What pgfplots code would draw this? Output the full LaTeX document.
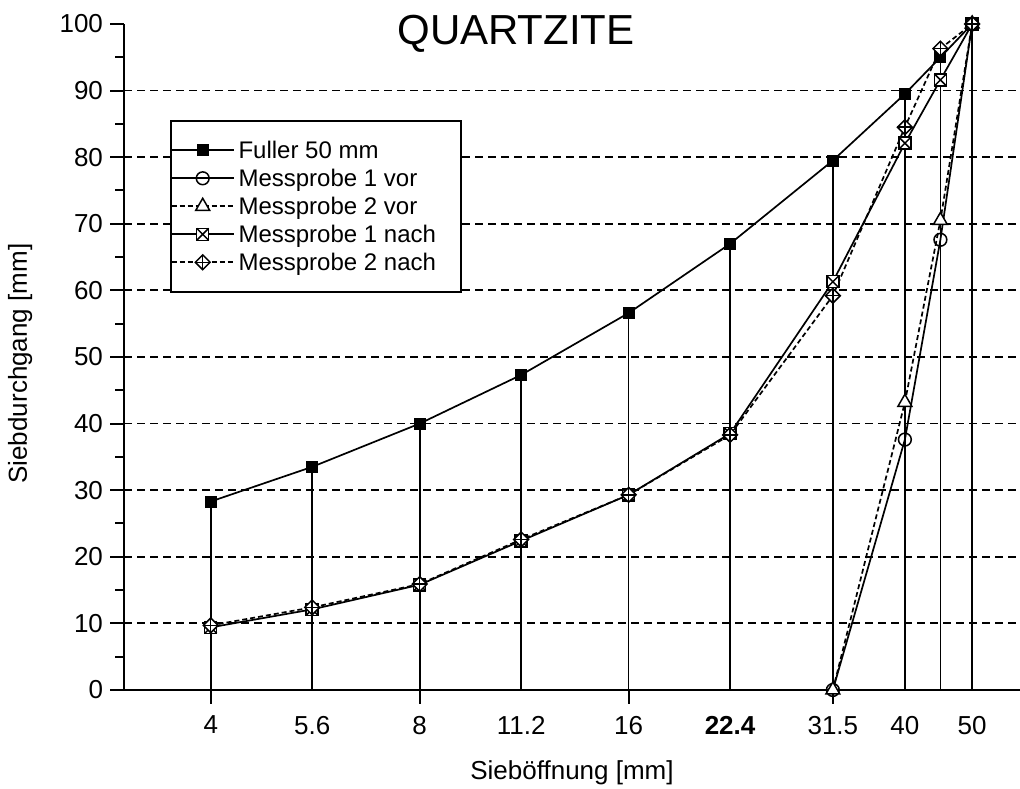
\documentclass[border=0pt]{standalone}
\usepackage{pgfplots}
\pgfplotsset{compat=1.18}
\usepackage{fontspec}
\setmainfont{Liberation Sans}

\pgfdeclareplotmark{boxx}{%
  \pgfpathrectangle{\pgfpoint{-\pgfplotmarksize}{-\pgfplotmarksize}}{\pgfpoint{2\pgfplotmarksize}{2\pgfplotmarksize}}%
  \pgfusepathqfillstroke
  \pgfpathmoveto{\pgfpoint{-\pgfplotmarksize}{-\pgfplotmarksize}}%
  \pgfpathlineto{\pgfpoint{\pgfplotmarksize}{\pgfplotmarksize}}%
  \pgfpathmoveto{\pgfpoint{-\pgfplotmarksize}{\pgfplotmarksize}}%
  \pgfpathlineto{\pgfpoint{\pgfplotmarksize}{-\pgfplotmarksize}}%
  \pgfusepathqstroke}
\pgfdeclareplotmark{diamondplus}{%
  \pgfpathmoveto{\pgfpoint{0pt}{\pgfplotmarksize}}%
  \pgfpathlineto{\pgfpoint{\pgfplotmarksize}{0pt}}%
  \pgfpathlineto{\pgfpoint{0pt}{-\pgfplotmarksize}}%
  \pgfpathlineto{\pgfpoint{-\pgfplotmarksize}{0pt}}%
  \pgfpathclose
  \pgfusepathqfillstroke
  \pgfpathmoveto{\pgfpoint{0pt}{\pgfplotmarksize}}%
  \pgfpathlineto{\pgfpoint{0pt}{-\pgfplotmarksize}}%
  \pgfpathmoveto{\pgfpoint{-\pgfplotmarksize}{0pt}}%
  \pgfpathlineto{\pgfpoint{\pgfplotmarksize}{0pt}}%
  \pgfusepathqstroke}

\pgfplotstableread{
x y
4 28.3
5.6 33.5
8 40.0
11.2 47.3
16 56.6
22.4 67.0
31.5 79.5
40 89.5
45 95.0
50 100
}\fuller
\pgfplotstableread{
x y
31.5 0
40 37.6
45 67.6
50 100
}\mavor
\pgfplotstableread{
x y
31.5 0
40 43.2
45 70.5
50 100
}\mbvor
\pgfplotstableread{
x y
4 9.4
5.6 12.1
8 15.8
11.2 22.4
16 29.3
22.4 38.5
31.5 61.3
40 82.1
45 91.6
50 100
}\manach
\pgfplotstableread{
x y
4 9.7
5.6 12.4
8 15.9
11.2 22.6
16 29.3
22.4 38.3
31.5 59.2
40 84.5
45 96.3
50 100
}\mbnach

\begin{document}
\begin{tikzpicture}
\begin{axis}[
  scale only axis, width=448pt, height=333pt,
  xmode=log, xmin=3, xmax=58.6, ymin=0, ymax=100,
  clip=false,
  axis x line*=bottom, axis y line*=left,
  axis line style={line width=1.1pt, black},
  /pgf/number format/assume math mode=true,
  tick label style={font=\fontsize{13}{15}\selectfont},
  label style={font=\fontsize{13}{15}\selectfont},
  xtick={4,8,16,31.5}, xticklabels={},
  extra x ticks={4,5.6,8,11.2,16,22.4,31.5,40,50},
  extra x tick labels={4,5.6,8,11.2,16,\raisebox{-2.5pt}{\textbf{22.4}},31.5,40,50},
  extra x tick style={major tick length=0pt, xticklabel style={yshift=-9.5pt}},
  ytick={0,10,...,100}, minor y tick num=1,
  extra y ticks={10,20,...,90},
  extra y tick style={grid=major, major tick length=0pt, yticklabel={}},
  grid style={black, line width=0.9pt, dash pattern=on 4pt off 2.5pt},
  tick align=outside, major tick length=7pt, minor tick length=4.5pt,
  tick style={black, line width=1pt},
  xlabel={Sieböffnung [mm]},
  ylabel={Siebdurchgang [mm]},
  xlabel style={at={(axis description cs:0.5,-0.1246)}, anchor=center},
  ylabel style={at={(axis description cs:-0.116,0.49)}, anchor=center},
  legend style={at={(axis description cs:0.0513,0.856)}, anchor=north west,
    draw=black, line width=0.9pt, fill=white, inner xsep=0pt, inner ysep=7.75pt,
    font=\fontsize{12}{14}\selectfont, row sep=0pt,
    nodes={text height=10pt, text depth=2pt, inner ysep=1pt}},
  legend cell align=left,
  legend image code/.code={\draw[mark repeat=2,mark phase=2,#1] plot coordinates {(0pt,0pt) (15.5pt,0pt) (31pt,0pt)};},
]
\addplot[ycomb, no markers, black, line width=0.85pt, forget plot] table[x=x,y=y] {\fuller};
\addplot[black, line width=0.85pt, mark=square*, mark size=2.75pt, mark options={solid, fill=black, line width=0.5pt}] table[x=x,y=y] {\fuller};
\addlegendentry{Fuller 50 mm}
\addplot[black, line width=0.85pt, mark=o, mark size=3.2pt, mark options={solid, fill=white, line width=0.75pt}] table[x=x,y=y] {\mavor};
\addlegendentry{Messprobe 1 vor}
\addplot[black, line width=0.85pt, dash pattern=on 2.5pt off 1.5pt, mark=triangle*, mark size=4pt, mark options={solid, fill=white, line width=0.75pt}] table[x=x,y=y] {\mbvor};
\addlegendentry{Messprobe 2 vor}
\addplot[black, line width=0.85pt, mark=boxx, mark size=3pt, mark options={solid, fill=white, line width=0.75pt}] table[x=x,y=y] {\manach};
\addlegendentry{Messprobe 1 nach}
\addplot[black, line width=0.85pt, dash pattern=on 2.5pt off 1.5pt, mark=diamondplus, mark size=3.7pt, mark options={solid, fill=white, line width=0.75pt}] table[x=x,y=y] {\mbnach};
\addlegendentry{Messprobe 2 nach\hspace*{10.5pt}}
\node[font=\fontsize{21}{24}\selectfont] at (rel axis cs:0.4375,0.986) {QUARTZITE};
\end{axis}
\pgfresetboundingbox
\path (current axis.south west) ++(-62pt,-49.5pt) rectangle ([yshift=12pt]current axis.north east);
\end{tikzpicture}
\end{document}
